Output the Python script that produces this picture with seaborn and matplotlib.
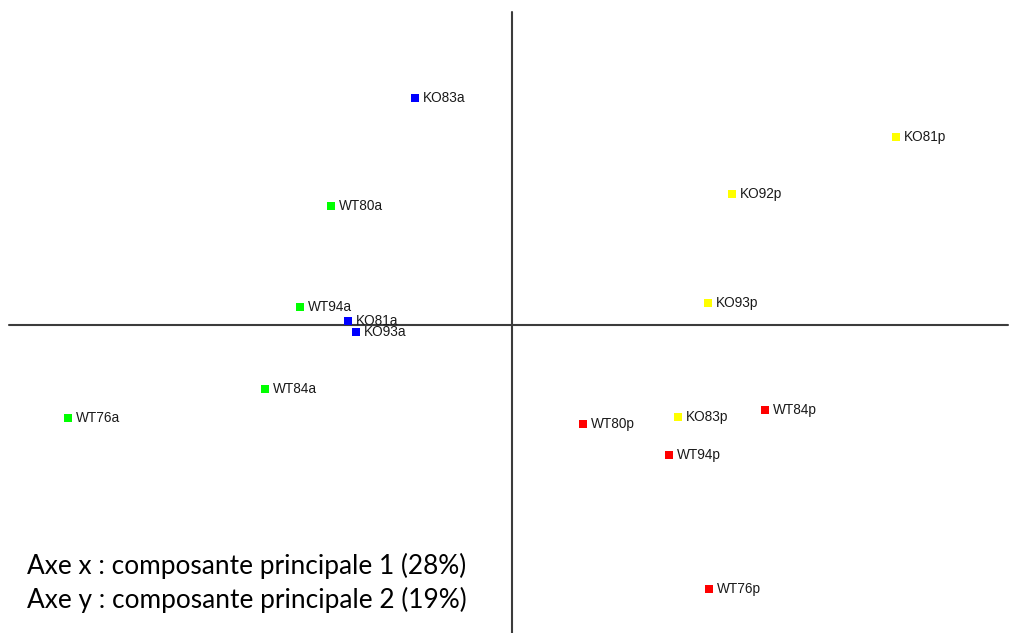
import matplotlib
matplotlib.use("Agg")
import matplotlib.pyplot as plt
import seaborn as sns
import pandas as pd

# PCA scores (component 1, component 2) for each sample
samples = ["KO83a", "WT80a", "WT94a", "KO81a", "KO93a", "WT84a", "WT76a",
           "KO81p", "KO92p", "KO93p", "KO83p",
           "WT80p", "WT84p", "WT94p", "WT76p"]
pc1 = [-97, -181, -212, -164, -156, -247, -444,
       384, 220, 196, 166,
       71, 253, 157, 197]
pc2 = [227, 119, 18, 4, -7, -64, -93,
       188, 131, 22, -92,
       -99, -85, -130, -264]
groups = ["KO a", "WT a", "WT a", "KO a", "KO a", "WT a", "WT a",
          "KO p", "KO p", "KO p", "KO p",
          "WT p", "WT p", "WT p", "WT p"]
group_colors = {"KO a": "#0000FF", "WT a": "#00FF00",
                "KO p": "#FFFF00", "WT p": "#FF0000"}
axis_notes = ["Axe x : composante principale 1 (28%)",
              "Axe y : composante principale 2 (19%)"]

df = pd.DataFrame({"sample": samples, "pc1": pc1, "pc2": pc2, "group": groups})

sns.set_theme(style="white")
fig = plt.figure(figsize=(10.09, 6.33), dpi=100)
ax = fig.add_axes([0, 0, 1, 1])

sns.scatterplot(data=df, x="pc1", y="pc2", hue="group", palette=group_colors,
                marker="s", s=36, linewidth=0, legend=False, ax=ax, zorder=3)

ax.set_xlim(-512, 497)
ax.set_ylim(-308, 325)

# origin cross lines
ax.axhline(0, xmin=9 / 1009, xmax=1008 / 1009, color="#3c3c3c", lw=1.5, zorder=1)
ax.axvline(0, ymin=0, ymax=1 - 12 / 633, color="#3c3c3c", lw=1.5, zorder=1)

for name, x, y in zip(df["sample"], df["pc1"], df["pc2"]):
    ax.annotate(name, (x, y), xytext=(5.5, 0), textcoords="offset points",
                ha="left", va="center", fontsize=9.8, color="#1a1a1a",
                family="Liberation Sans", zorder=4)

for i, note in enumerate(axis_notes):
    fig.text(27 / 1009, 1 - (566 + 34 * i) / 633, note, ha="left", va="center",
             fontsize=18.9, family="Lato", color="black")

ax.set_axis_off()
fig.savefig("out.png", dpi=100, facecolor="white")
